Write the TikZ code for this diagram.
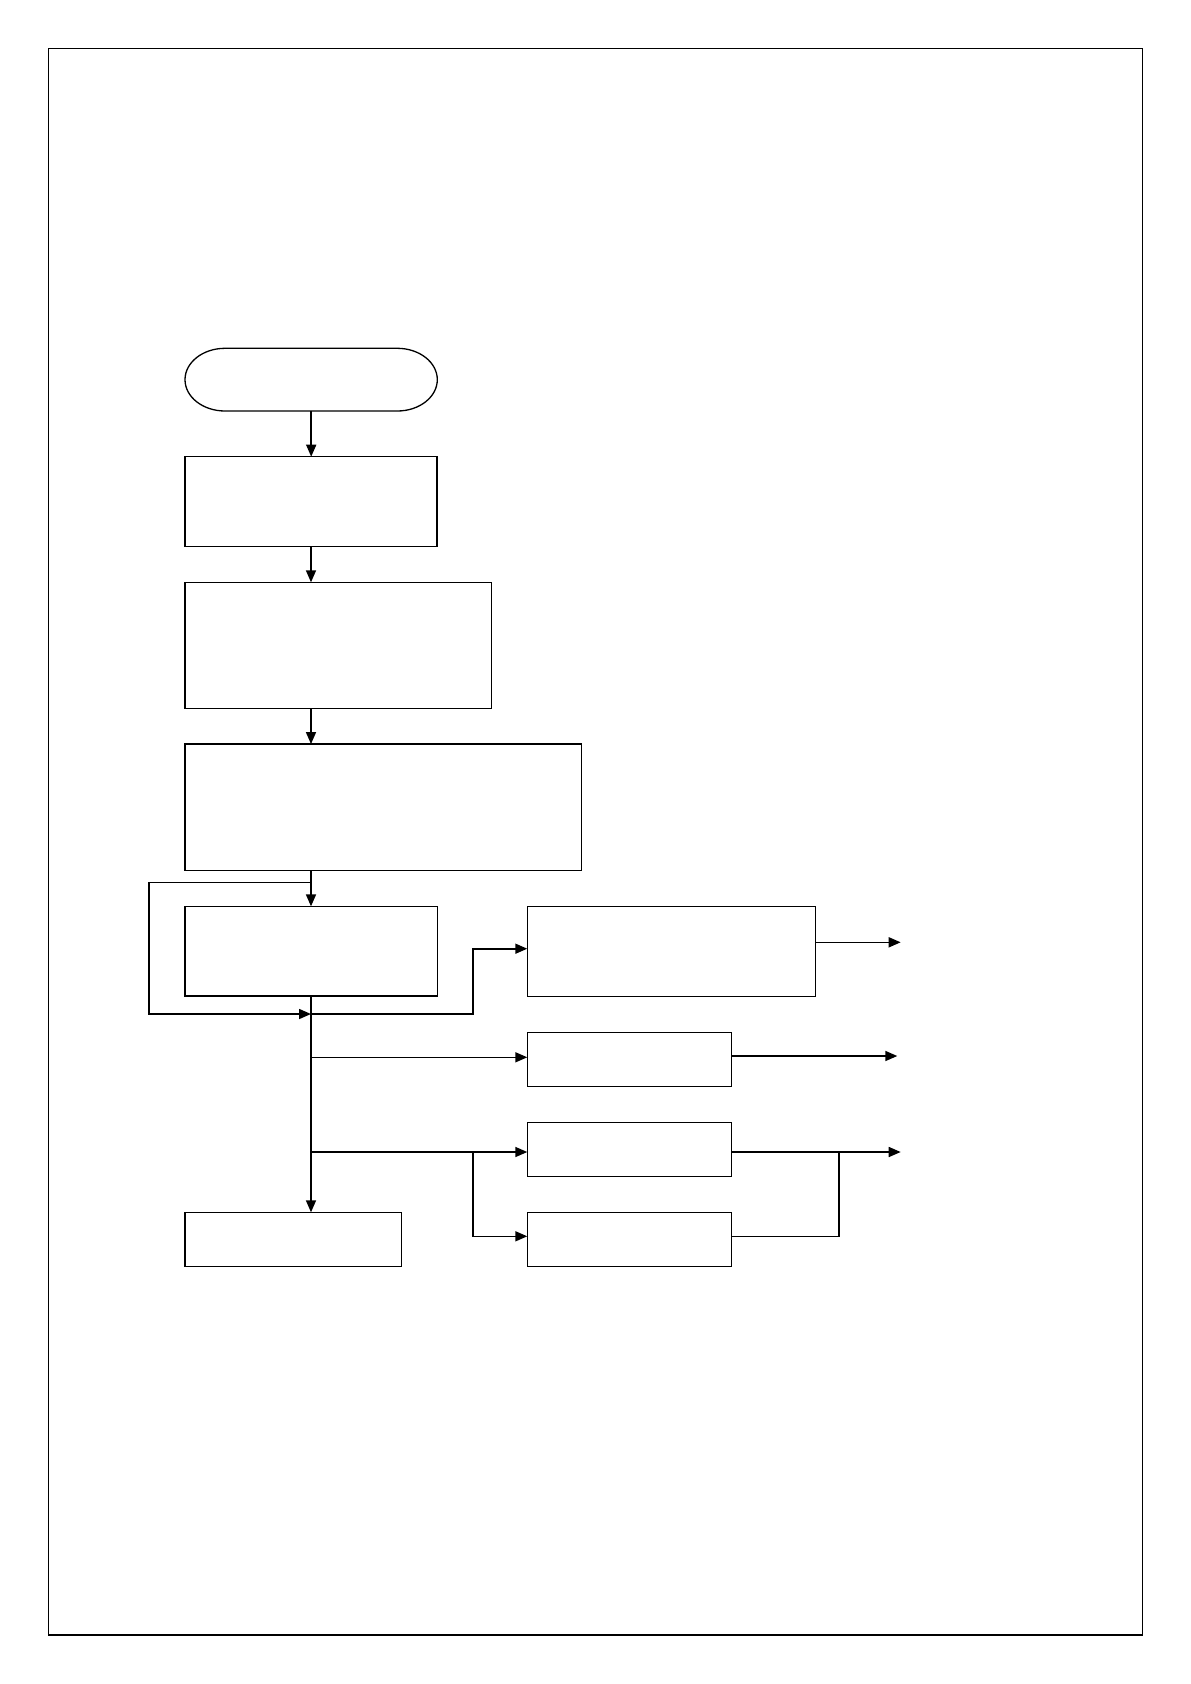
\documentclass[tikz,border=0pt]{standalone}
\usetikzlibrary{arrows.meta}
\begin{document}
\begin{tikzpicture}[x=1pt,y=-1pt,
  box/.style={draw,line width=1.3pt,inner sep=0pt,outer sep=0pt,rectangle},
  term/.style={inner sep=0pt,outer sep=0pt,rectangle},
  conn/.style={line width=1.6pt},
  arr/.style={conn,-{Triangle[length=12pt,width=10pt]}}]
\useasboundingbox (0,0) rectangle (1191,1684);
\draw[line width=1.3pt] (48.7,48.7) rectangle (1142.3,1635);
% nodes
\node[term,minimum width=252.3pt,minimum height=62.7pt] (t) at (311.2,379.7) {};
\draw[line width=1.3pt] (225,348.3) -- (397.3,348.3)
  .. controls (419.39,348.3) and (437.3,362.34) .. (437.3,379.65)
  .. controls (437.3,396.96) and (419.39,411) .. (397.3,411)
  -- (225,411)
  .. controls (202.91,411) and (185,396.96) .. (185,379.65)
  .. controls (185,362.34) and (202.91,348.3) .. (225,348.3) -- cycle;
\node[box,minimum width=252pt,minimum height=89.6pt] (b1) at (311,501.5) {};
\node[box,minimum width=306.7pt,minimum height=126pt] (b2) at (338.3,645.3) {};
\node[box,minimum width=396.7pt,minimum height=126.3pt] (b3) at (383.3,807.2) {};
\node[box,minimum width=252.3pt,minimum height=89.7pt] (b4) at (311.2,951.2) {};
\node[box,minimum width=288.4pt,minimum height=90pt] (b5) at (671.5,951.3) {};
\node[box,minimum width=204.4pt,minimum height=54pt] (b6) at (629.5,1059.3) {};
\node[box,minimum width=204.4pt,minimum height=54pt] (b7) at (629.5,1149.3) {};
\node[box,minimum width=204.4pt,minimum height=54pt] (b8) at (629.5,1239.3) {};
\node[box,minimum width=216.7pt,minimum height=54pt] (b9) at (293.3,1239.3) {};
% coordinates
\coordinate (L1) at (311,882.3);
\coordinate (L2) at (149,882.3);
\coordinate (L3) at (149,1014);
\coordinate (J) at (311,1014);
\coordinate (K) at (473,1014);
\coordinate (K2) at (473,948.7);
\coordinate (B6) at (311,1057.3);
\coordinate (B7) at (311,1152);
\coordinate (S) at (473,1152);
\coordinate (S2) at (473,1236.3);
\coordinate (O5) at (900.7,942.3);
\coordinate (O6) at (897.3,1056);
\coordinate (O7) at (900.7,1152);
\coordinate (M) at (839,1236.3);
\coordinate (M2) at (839,1152);
% connectors
\draw[arr] (t.south) -- (t.south |- b1.north);
\draw[arr] (b1.south) -- (b1.south |- b2.north);
\draw[arr] (b1.south |- b2.south) -- (b1.south |- b3.north);
\draw[arr] (b1.south |- b3.south) -- (b1.south |- b4.north);
\draw[arr] (L1) -- (L2) -- (L3) -- (J);
\draw[arr] (b4.south -| J) -- (J |- b9.north);
\draw[arr] (J) -- (K) -- (K2) -- (K2 -| b5.west);
\draw[arr] (B6) -- (B6 -| b6.west);
\draw[arr] (B7) -- (B7 -| b7.west);
\draw[arr] (S) -- (S2) -- (S2 -| b8.west);
\draw[arr] (O5 -| b5.east) -- (O5);
\draw[arr] (O6 -| b6.east) -- (O6);
\draw[arr] (O7 -| b7.east) -- (O7);
\draw[conn] (M -| b8.east) -- (M) -- (M2);
\end{tikzpicture}
\end{document}
